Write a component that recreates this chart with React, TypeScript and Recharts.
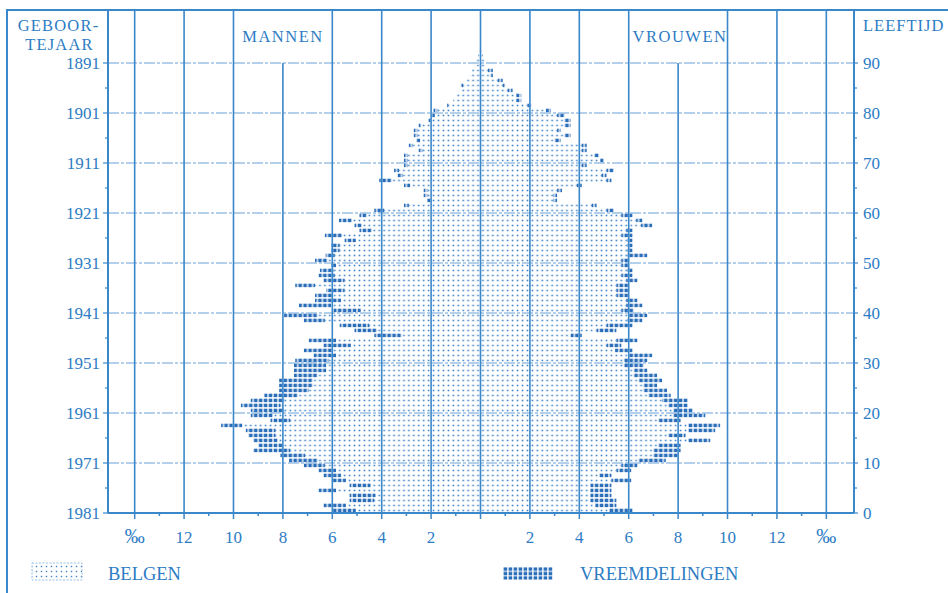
import React from 'react';
import { BarChart, Bar, XAxis, YAxis, ReferenceLine } from 'recharts';

const ages = [
  0, 1, 2, 3, 4, 5, 6, 7, 8, 9, 10, 11, 12, 13, 14, 15, 16, 17, 18, 19,
  20, 21, 22, 23, 24, 25, 26, 27, 28, 29, 30, 31, 32, 33, 34, 35, 36, 37, 38, 39,
  40, 41, 42, 43, 44, 45, 46, 47, 48, 49, 50, 51, 52, 53, 54, 55, 56, 57, 58, 59,
  60, 61, 62, 63, 64, 65, 66, 67, 68, 69, 70, 71, 72, 73, 74, 75, 76, 77, 78, 79,
  80, 81, 82, 83, 84, 85, 86, 87, 88, 89, 90, 91, 92,
];

const menBelgian = [
  5.05, 5.45, 4.3, 4.25, 5.85, 4.45, 5.45, 5.65, 5.85, 6.3,
  6.6, 7.1, 7.7, 8.0, 8.2, 8.3, 8.3, 9.65, 7.7, 8.4,
  7.95, 8.1, 7.95, 7.4, 6.95, 6.8, 6.8, 6.6, 6.25, 6.25,
  6.15, 5.85, 6.0, 5.25, 5.85, 3.2, 4.2, 4.5, 6.3, 6.6,
  4.85, 6.05, 5.65, 6.0, 5.5, 6.7, 5.5, 5.9, 5.95, 5.85,
  6.2, 5.9, 5.7, 5.7, 5.05, 5.6, 4.4, 4.8, 5.2, 4.6,
  3.9, 2.9, 2.0, 2.15, 2.15, 2.85, 3.6, 3.15, 3.3, 2.95,
  2.95, 2.95, 2.35, 2.75, 2.45, 2.55, 2.55, 2.4, 2.0, 1.85,
  1.75, 1.3, 1.1, 1.0, 0.85, 0.7, 0.6, 0.45, 0.35, 0.25,
  0.2, 0.1, 0.05,
];

const menForeign = [
  0.95, 0.9, 1.0, 1.05, 0.7, 0.85, 0.55, 0.7, 0.7, 0.85,
  1.15, 1.0, 1.5, 1.0, 1.0, 1.1, 1.2, 0.85, 0.8, 0.9,
  1.35, 1.6, 1.35, 1.35, 1.2, 1.35, 1.35, 0.95, 1.3, 1.3,
  1.35, 0.9, 1.15, 1.1, 1.1, 1.1, 0.9, 1.2, 0.85, 1.35,
  1.1, 1.3, 1.05, 0.7, 0.75, 0.8, 0.85, 0.65, 0.55, 0.2,
  0.5, 0.37, 0.35, 0.35, 0.45, 0.7, 0.5, 0.3, 0.53, 0.3,
  0.4, 0.2, 0.15, 0.15, 0.15, 0.25, 0.5, 0.2, 0.2, 0.15,
  0.15, 0.15, 0.15, 0.15, 0.15, 0.15, 0.15, 0.1, 0.1, 0.1,
  0.15, 0.05, 0, 0, 0, 0.1, 0, 0, 0, 0,
  0, 0, 0,
];

const womenBelgian = [
  5.2, 4.65, 4.45, 4.45, 4.45, 4.45, 5.3, 4.8, 5.5, 5.7,
  6.4, 7.0, 7.0, 7.2, 8.4, 7.6, 8.4, 8.4, 7.2, 7.8,
  7.8, 7.6, 7.35, 6.8, 6.6, 6.6, 6.4, 6.2, 6.2, 5.8,
  5.8, 6.0, 5.45, 5.1, 5.5, 3.65, 4.7, 5.1, 5.95, 6.0,
  5.7, 5.9, 5.9, 5.5, 5.5, 5.5, 5.9, 5.7, 5.95, 5.7,
  5.7, 5.95, 5.95, 5.95, 5.95, 5.7, 5.9, 6.5, 6.3, 5.7,
  5.1, 4.5, 2.95, 2.95, 3.1, 3.9, 5.1, 4.9, 5.1, 4.1,
  4.85, 4.6, 4.1, 4.1, 3.0, 3.4, 3.1, 3.4, 3.4, 3.1,
  2.65, 1.9, 1.45, 1.45, 1.1, 0.9, 0.7, 0.4, 0.3, 0.2,
  0.15, 0.1, 0.05,
];

const womenForeign = [
  0.95, 0.85, 1.05, 0.85, 0.85, 0.85, 0.8, 0.5, 0.6, 0.65,
  1.1, 1.0, 1.1, 0.9, 0.9, 0.7, 1.1, 1.3, 0.9, 1.3,
  0.8, 0.8, 1.05, 0.9, 0.95, 0.55, 0.95, 0.95, 0.55, 0.8,
  0.95, 0.95, 0.7, 0.6, 0.85, 0.45, 0.8, 1.05, 0.6, 0.75,
  0.5, 0.65, 0.45, 0.5, 0.5, 0.5, 0.45, 0.45, 0.2, 0.3,
  0.3, 0.8, 0.2, 0.2, 0.2, 0.45, 0.25, 0.45, 0.25, 0.45,
  0.3, 0.2, 0.15, 0.15, 0.2, 0.2, 0.2, 0.2, 0.3, 0.2,
  0.15, 0.2, 0.2, 0.2, 0.25, 0.25, 0.15, 0.25, 0.25, 0.3,
  0.2, 0.15, 0.2, 0.2, 0.2, 0.1, 0.2, 0.1, 0.2, 0,
  0, 0, 0,
];

const ageTicks = [0, 5, 10, 15, 20, 25, 30, 35, 40, 45, 50, 55, 60, 65, 70, 75, 80, 85, 90];
const gridAges = [10, 20, 30, 40, 50, 60, 70, 80, 90];
const pctTicks = [-14, -13, -12, -11, -10, -9, -8, -7, -6, -5, -4, -3, -2, -1, 0, 1, 2, 3, 4, 5, 6, 7, 8, 9, 10, 11, 12, 13, 14];
const fullGridX = [-14, -12, -10, -6, -4, -2, 0, 2, 4, 6, 10, 12, 14];
const shortGridX = [-8, 8];
const censusYear = 1981;

const data = ages.map((a, i) => ({
  pos: a + 0.5,
  mB: -menBelgian[i],
  mF: -menForeign[i],
  wB: womenBelgian[i],
  wF: womenForeign[i],
}));

const BLUE = '#2d7cc4';
const LINE = '#3a87ca';
const SQ = '#2a6db8';
const FONT = '"Liberation Serif", "Times New Roman", serif';

const W = 948;
const H = 593;
const PLOT_LEFT = 108;
const PLOT_RIGHT = 854;
const PLOT_TOP = 10;
const Y_DOMAIN: [number, number] = [0, 100.6];
const X_DOMAIN: [number, number] = [-15.08, 15.12];
const PX_PER_UNIT = (PLOT_RIGHT - PLOT_LEFT) / (X_DOMAIN[1] - X_DOMAIN[0]);
const CELL_W = PX_PER_UNIT * 0.2;
const CENTER_X = PLOT_LEFT + (0 - X_DOMAIN[0]) * PX_PER_UNIT;

const XTick = (props: any) => {
  const { x, y, payload } = props;
  const v = payload.value as number;
  const major = v % 2 === 0;
  const label = Math.abs(v) === 14 ? '‰' : String(Math.abs(v));
  return (
    <g>
      <line x1={x} x2={x} y1={y} y2={y + (major ? 6 : 3)} stroke={LINE} strokeWidth={1.5} />
      {major && v !== 0 && (
        <text x={x} y={y + 30} textAnchor="middle" fill={BLUE} fontFamily={FONT} fontSize={Math.abs(v) === 14 ? 20 : 17}>
          {label}
        </text>
      )}
    </g>
  );
};

const LeftTick = (props: any) => {
  const { x, y, payload } = props;
  const v = payload.value as number;
  const major = v % 10 === 0;
  return (
    <g>
      <line x1={x - (major ? 5 : 3)} x2={x} y1={y} y2={y} stroke={LINE} strokeWidth={1.2} />
      {major && (
        <text x={x - 8} y={y} dy="0.36em" textAnchor="end" fill={BLUE} fontFamily={FONT} fontSize={17}>
          {censusYear - v}
        </text>
      )}
    </g>
  );
};

const RightTick = (props: any) => {
  const { x, y, payload } = props;
  const v = payload.value as number;
  const major = v % 10 === 0;
  return (
    <g>
      <line x1={x} x2={x + (major ? 4 : 3)} y1={y} y2={y} stroke={LINE} strokeWidth={1.2} />
      {major && (
        <text x={x + 9} y={y} dy="0.36em" textAnchor="start" fill={BLUE} fontFamily={FONT} fontSize={17}>
          {v}
        </text>
      )}
    </g>
  );
};

export default function App() {
  return (
    <div style={{ position: 'absolute', left: 0, top: 0, width: W, height: H, background: '#fff' }}>
      <BarChart
        width={W}
        height={H}
        data={data}
        layout="vertical"
        stackOffset="sign"
        barSize={5}
        barCategoryGap={0}
        barGap={0}
        margin={{ top: PLOT_TOP, right: 4, bottom: 40, left: 8 }}
      >
        <defs>
          <pattern id="belgPat" patternUnits="userSpaceOnUse" x={CENTER_X} y={3} width={CELL_W} height={5}>
            <rect x={CELL_W / 2 - 0.8} y={1.7} width={1.6} height={1.6} fill="#3a80c4" />
          </pattern>
          <pattern id="vreemPat" patternUnits="userSpaceOnUse" x={CENTER_X} y={3} width={CELL_W} height={5}>
            <rect x={CELL_W / 2 - 1.8} y={0.7} width={3.6} height={3.6} fill={SQ} />
          </pattern>
        </defs>
        <XAxis
          type="number"
          domain={X_DOMAIN}
          allowDataOverflow
          ticks={pctTicks}
          interval={0}
          tick={XTick}
          tickLine={false}
          tickSize={0}
          tickMargin={0}
          height={40}
          axisLine={{ stroke: LINE, strokeWidth: 2 }}
        />
        <YAxis
          type="number"
          dataKey="pos"
          domain={Y_DOMAIN}
          reversed
          allowDataOverflow
          ticks={ageTicks}
          interval={0}
          tick={LeftTick}
          tickLine={false}
          tickSize={0}
          tickMargin={0}
          width={100}
          axisLine={{ stroke: LINE, strokeWidth: 2 }}
        />
        <YAxis
          yAxisId="right"
          orientation="right"
          type="number"
          dataKey="pos"
          domain={Y_DOMAIN}
          reversed
          allowDataOverflow
          ticks={ageTicks}
          interval={0}
          tick={RightTick}
          tickLine={false}
          tickSize={0}
          tickMargin={0}
          width={90}
          axisLine={{ stroke: LINE, strokeWidth: 2 }}
        />
        <Bar dataKey="mB" stackId="p" fill="url(#belgPat)" isAnimationActive={false} />
        <Bar dataKey="mF" stackId="p" fill="url(#vreemPat)" isAnimationActive={false} />
        <Bar dataKey="wB" stackId="p" fill="url(#belgPat)" isAnimationActive={false} />
        <Bar dataKey="wF" stackId="p" fill="url(#vreemPat)" isAnimationActive={false} />
        {gridAges.map((a) => (
          <ReferenceLine key={'h' + a} y={a} stroke="#6aa0d6" strokeWidth={1} strokeDasharray="11 2 3 2" />
        ))}
        {fullGridX.map((v) => (
          <ReferenceLine key={'v' + v} x={v} stroke={LINE} strokeWidth={1.6} />
        ))}
        {shortGridX.map((v) => (
          <ReferenceLine
            key={'s' + v}
            segment={[
              { x: v, y: 0 },
              { x: v, y: 90 },
            ]}
            stroke={LINE}
            strokeWidth={1.6}
          />
        ))}
      </BarChart>
      <svg width={W} height={H} style={{ position: 'absolute', left: 0, top: 0, pointerEvents: 'none' }}>
        <defs>
          <pattern id="legB" patternUnits="userSpaceOnUse" x={34} y={564} width={5} height={5}>
            <rect x={1.8} y={1.8} width={1.4} height={1.4} fill="#3d82c6" />
          </pattern>
          <pattern id="legV" patternUnits="userSpaceOnUse" x={503} y={567} width={5} height={4.4}>
            <rect x={0.6} y={0.4} width={3.6} height={3.4} fill={SQ} />
          </pattern>
        </defs>
        <line x1={6} x2={W} y1={10} y2={10} stroke={LINE} strokeWidth={2} />
        <line x1={7} x2={7} y1={10} y2={H} stroke={LINE} strokeWidth={2} />
        <text x={58.5} y={30.5} textAnchor="middle" fill={BLUE} fontFamily={FONT} fontSize={16.5} letterSpacing={1.2}>GEBOOR-</text>
        <text x={59.5} y={50} textAnchor="middle" fill={BLUE} fontFamily={FONT} fontSize={16.5} letterSpacing={1.2}>TEJAAR</text>
        <text x={863} y={30.5} textAnchor="start" fill={BLUE} fontFamily={FONT} fontSize={16.5} letterSpacing={1}>LEEFTIJD</text>
        <text x={283} y={42} textAnchor="middle" fill={BLUE} fontFamily={FONT} fontSize={16.5} letterSpacing={1.5}>MANNEN</text>
        <text x={680} y={42} textAnchor="middle" fill={BLUE} fontFamily={FONT} fontSize={16.5} letterSpacing={1.5}>VROUWEN</text>
        <rect x={32} y={563} width={50} height={17} fill="url(#legB)" stroke="#7fb0de" strokeWidth={0.8} strokeDasharray="2 1.5" />
        <text x={108} y={580} fill={BLUE} fontFamily={FONT} fontSize={18.5}>BELGEN</text>
        <rect x={503} y={567} width={50} height={13} fill="url(#legV)" />
        <text x={580} y={580} fill={BLUE} fontFamily={FONT} fontSize={18.5}>VREEMDELINGEN</text>
      </svg>
    </div>
  );
}
